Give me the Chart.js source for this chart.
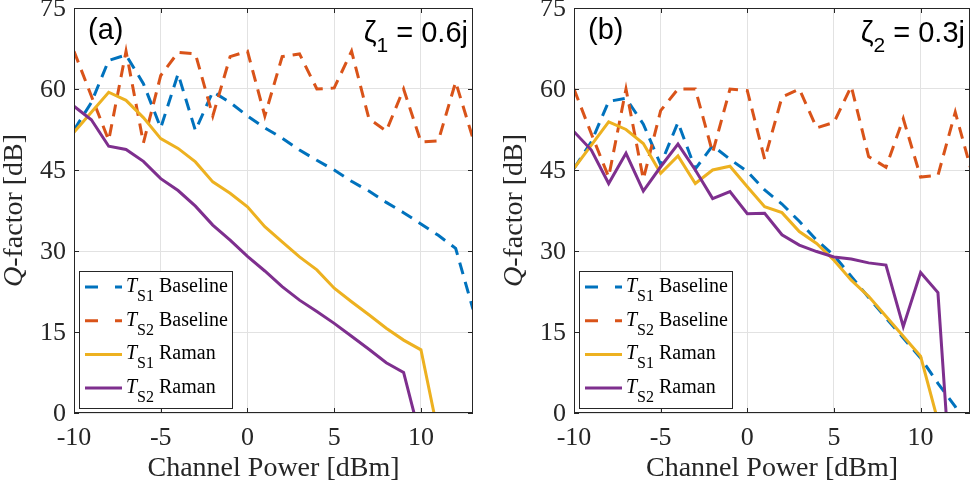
<!DOCTYPE html>
<html>
<head>
<meta charset="utf-8">
<script src="https://cdn.jsdelivr.net/npm/chart.js@4/dist/chart.umd.min.js"></script>
<style>
  body { margin: 0; background: #fff; }
  #wrap { position: relative; width: 971px; height: 490px; overflow: hidden; }
  canvas { position: absolute; top: 0; }
</style>
</head>
<body>
<div id="wrap">
  <canvas id="panelA" width="485" height="490" style="left:0"></canvas>
  <canvas id="panelB" width="486" height="490" style="left:485px"></canvas>
</div>
<script>
// ── data ─────────────────────────────────────────────────
const xPower = [-10, -9, -8, -7, -6, -5, -4, -3, -2, -1, 0, 1, 2, 3, 4, 5, 6, 7, 8, 9, 10, 11, 12, 13];
const xTicks = [-10, -5, 0, 5, 10];
const yTicks = [0, 15, 30, 45, 60, 75];

// (a) zeta1 = 0.6j
const aBaselineS1 = [52.4, 57.5, 65.3, 66.3, 61.0, 52.8, 62.8, 52.3, 59.5, 57.5, 55.0, 52.8, 50.9, 48.7, 46.8, 45.0, 42.9, 41.1, 39.0, 37.1, 35.0, 32.9, 30.5, 19.2];
const aBaselineS2 = [67.0, 58.7, 50.5, 67.0, 50.0, 62.5, 66.8, 66.5, 55.0, 66.0, 67.0, 55.0, 66.0, 66.5, 60.0, 60.2, 67.0, 54.5, 52.2, 60.0, 50.2, 50.4, 61.3, 50.8];
const aRamanS1 = [52.0, 55.7, 59.4, 57.9, 54.7, 50.8, 49.0, 46.5, 42.8, 40.7, 38.2, 34.5, 31.7, 28.9, 26.5, 23.1, 20.6, 18.2, 15.7, 13.5, 11.7, -3.9];
const aRamanS2 = [56.8, 54.3, 49.4, 48.8, 46.6, 43.4, 41.2, 38.3, 34.8, 32.0, 29.0, 26.3, 23.4, 20.9, 18.8, 16.6, 14.2, 11.8, 9.3, 7.5, -5.0];

// (b) zeta2 = 0.3j
const bBaselineS1 = [45.3, 50.2, 57.7, 58.3, 53.5, 46.0, 53.8, 45.2, 49.5, 47.0, 44.7, 41.3, 38.7, 35.5, 32.0, 29.2, 25.3, 21.4, 17.6, 13.9, 10.2, 5.5, 1.2, -5.0];
const bBaselineS2 = [60.0, 51.7, 43.7, 60.0, 43.3, 56.0, 60.0, 60.0, 48.2, 60.0, 59.7, 47.0, 58.5, 60.0, 52.8, 53.8, 60.5, 47.5, 45.5, 54.5, 43.7, 44.0, 55.7, 44.0];
const bRamanS1 = [45.3, 49.6, 53.9, 52.5, 49.9, 44.4, 47.6, 42.5, 45.0, 45.7, 41.9, 38.2, 37.1, 33.6, 31.4, 28.3, 24.6, 21.6, 17.9, 14.2, 10.5, -1.5];
const bRamanS2 = [52.1, 48.7, 42.5, 48.1, 41.1, 45.6, 49.8, 45.0, 39.7, 41.0, 36.9, 37.0, 33.0, 31.1, 29.9, 28.9, 28.5, 27.8, 27.4, 16.0, 26.0, 22.3, -25.0];

const legendSubs = ["S1", "S2", "S1", "S2"];
const legendNames = ["Baseline", "Baseline", "Raman", "Raman"];

// ── style ────────────────────────────────────────────────
const COLORS = ["#0072BD", "#D95319", "#EDB120", "#7E2F8E"];
const DASH = [12, 8];
const AXIS = "#262626";
const GRID = "#e2e2e2";
const SERIF = "'Liberation Serif', 'Times New Roman', serif";
const SANS = "'Liberation Sans', Arial, sans-serif";

const toPoints = (ys) => ys.map((y, i) => ({ x: xPower[i], y }));

function drawFrame(chart, p) {
  const ctx = chart.ctx;
  const a = chart.chartArea;
  const xs = chart.scales.x;
  const ys = chart.scales.y;
  ctx.save();
  ctx.strokeStyle = AXIS;
  ctx.lineWidth = 1;
  ctx.strokeRect(a.left + 0.5, a.top + 0.5, a.right - a.left - 1, a.bottom - a.top - 1);

  // inward tick marks on all four sides
  ctx.beginPath();
  xTicks.forEach((v) => {
    const px = Math.round(xs.getPixelForValue(v)) + 0.5;
    ctx.moveTo(px, a.bottom); ctx.lineTo(px, a.bottom - 5);
    ctx.moveTo(px, a.top); ctx.lineTo(px, a.top + 5);
  });
  yTicks.forEach((v) => {
    const py = Math.round(ys.getPixelForValue(v)) + 0.5;
    ctx.moveTo(a.left, py); ctx.lineTo(a.left + 5, py);
    ctx.moveTo(a.right, py); ctx.lineTo(a.right - 5, py);
  });
  ctx.stroke();

  // tick labels
  ctx.fillStyle = AXIS;
  ctx.font = "26px " + SERIF;
  ctx.textAlign = "right";
  ctx.textBaseline = "middle";
  yTicks.forEach((v) => ctx.fillText(String(v), a.left - 8, ys.getPixelForValue(v) + 1));
  ctx.textAlign = "center";
  xTicks.forEach((v) => ctx.fillText(String(v), xs.getPixelForValue(v), a.bottom + 25));

  // axis titles
  ctx.font = "28px " + SERIF;
  ctx.fillText("Channel Power [dBm]", (a.left + a.right) / 2, a.bottom + 56);

  ctx.save();
  ctx.translate(a.left - 59, (a.top + a.bottom) / 2);
  ctx.rotate(-Math.PI / 2);
  const qFont = "italic 28px " + SERIF;
  const restFont = "28px " + SERIF;
  ctx.font = qFont;
  const wQ = ctx.measureText("Q").width;
  ctx.font = restFont;
  const wRest = ctx.measureText("-factor [dB]").width;
  const x0 = -(wQ + wRest) / 2;
  ctx.textAlign = "left";
  ctx.font = qFont;
  ctx.fillText("Q", x0, 0);
  ctx.font = restFont;
  ctx.fillText("-factor [dB]", x0 + wQ, 0);
  ctx.restore();

  // panel tag and zeta annotation
  ctx.fillStyle = "#000";
  ctx.textBaseline = "alphabetic";
  ctx.textAlign = "left";
  ctx.font = "29px " + SANS;
  ctx.fillText(p.tag, a.left + 14, 39);

  const main = "29px " + SANS;
  const sub = "21px " + SANS;
  ctx.font = main;
  const wZ = ctx.measureText("\u03B6").width;
  const wVal = ctx.measureText(p.value).width;
  ctx.font = sub;
  const wSub = ctx.measureText(p.sub).width;
  const xz = a.right - 5 - (wZ + wSub + wVal);
  ctx.font = main;
  ctx.fillText("\u03B6", xz, 42);
  ctx.font = sub;
  ctx.fillText(p.sub, xz + wZ, 52);
  ctx.font = main;
  ctx.fillText(p.value, xz + wZ + wSub, 42);
  ctx.restore();
}

function drawLegend(chart) {
  const ctx = chart.ctx;
  const a = chart.chartArea;
  const bx = a.left + 5, by = 271, bw = 153, bh = 137;
  ctx.save();
  ctx.fillStyle = "#fff";
  ctx.fillRect(bx, by, bw, bh);
  ctx.strokeStyle = AXIS;
  ctx.lineWidth = 1;
  ctx.strokeRect(bx + 0.5, by + 0.5, bw, bh);

  chart.data.datasets.forEach((ds, i) => {
    const cy = by + 16 + i * 33.7;
    ctx.strokeStyle = ds.borderColor;
    ctx.lineWidth = ds.borderWidth;
    ctx.setLineDash(ds.borderDash.length ? [13, 17] : []);
    ctx.beginPath();
    ctx.moveTo(bx + 6, cy);
    ctx.lineTo(bx + 43, cy);
    ctx.stroke();
    ctx.setLineDash([]);

    ctx.fillStyle = "#000";
    ctx.textAlign = "left";
    ctx.textBaseline = "alphabetic";
    let tx = bx + 47;
    ctx.font = "italic 20px " + SERIF;
    ctx.fillText("T", tx, cy + 5);
    tx += ctx.measureText("T").width;
    ctx.font = "16px " + SERIF;
    ctx.fillText(legendSubs[i], tx, cy + 14);
    tx += ctx.measureText(legendSubs[i]).width;
    ctx.font = "20px " + SERIF;
    ctx.fillText(" " + legendNames[i], tx, cy + 5);
  });
  ctx.restore();
}

function makePanel(canvasId, p) {
  const series = [p.baseS1, p.baseS2, p.ramanS1, p.ramanS2];
  const datasets = series.map((ys, i) => ({
    label: "T" + legendSubs[i] + " " + legendNames[i],
    data: toPoints(ys),
    borderColor: COLORS[i],
    backgroundColor: COLORS[i],
    borderWidth: 3,
    borderDash: i < 2 ? DASH : [],
    pointRadius: 0,
    tension: 0,
    clip: 0,
    order: 4 - i,
  }));

  new Chart(document.getElementById(canvasId), {
    type: "line",
    data: { datasets },
    options: {
      responsive: false,
      animation: false,
      events: [],
      layout: { padding: { top: 8, right: p.padRight, left: 0, bottom: 0 } },
      plugins: { legend: { display: false }, tooltip: { enabled: false } },
      scales: {
        x: {
          type: "linear",
          min: -10,
          max: p.xMax,
          afterBuildTicks: (s) => { s.ticks = xTicks.map((v) => ({ value: v })); },
          afterFit: (s) => { s.height = 77; },
          ticks: { display: false },
          grid: { color: GRID, drawTicks: false },
          border: { display: false },
        },
        y: {
          min: 0,
          max: 75,
          afterBuildTicks: (s) => { s.ticks = yTicks.map((v) => ({ value: v })); },
          afterFit: (s) => { s.width = p.axisLeft; },
          ticks: { display: false },
          grid: { color: GRID, drawTicks: false },
          border: { display: false },
        },
      },
    },
    plugins: [{
      id: "matlabFrame",
      afterDatasetsDraw: (chart) => drawFrame(chart, p),
      afterDraw: (chart) => drawLegend(chart),
    }],
  });
}

makePanel("panelA", {
  baseS1: aBaselineS1, baseS2: aBaselineS2, ramanS1: aRamanS1, ramanS2: aRamanS2,
  tag: "(a)", sub: "1", value: " = 0.6j",
  axisLeft: 74, padRight: 12, xMax: 13,
});

makePanel("panelB", {
  baseS1: bBaselineS1, baseS2: bBaselineS2, ramanS1: bRamanS1, ramanS2: bRamanS2,
  tag: "(b)", sub: "2", value: " = 0.3j",
  axisLeft: 89, padRight: 1, xMax: 12.85,
});
</script>
</body>
</html>
